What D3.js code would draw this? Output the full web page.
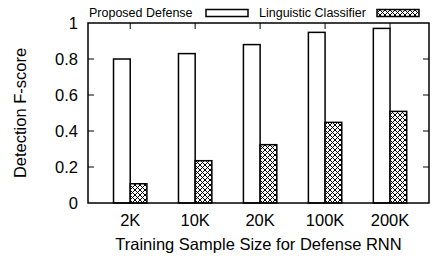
<!DOCTYPE html>
<html>
<head>
<meta charset="utf-8">
<script src="https://cdn.jsdelivr.net/npm/d3@7"></script>
<style>
  body { margin: 0; background: #fff; }
  text { font-family: "Liberation Sans", Arial, sans-serif; fill: #000; }
</style>
</head>
<body>
<div id="my_dataviz"></div>
<script>
// chart data
const sizes = ["2K", "10K", "20K", "100K", "200K"];
const proposed = [0.80, 0.83, 0.88, 0.948, 0.97];
const linguistic = [0.107, 0.235, 0.324, 0.448, 0.509];
const yTicks = [0, 0.2, 0.4, 0.6, 0.8, 1];
const seriesNames = ["Proposed Defense", "Linguistic Classifier"];

const width = 433
const height = 256
const margin = {
    "top": 23,
    "bottom": 53,
    "left": 88,
    "right": 4,
};
const barW = 0.257;
const axisFont = "16.5px";

document.addEventListener('DOMContentLoaded', function () {
    var svg = d3.select("#my_dataviz").append("svg")
        .attr("width", width)
        .attr("height", height);

    // crosshatch pattern
    var pat = svg.append("defs").append("pattern")
        .attr("id", "hatch")
        .attr("patternUnits", "userSpaceOnUse")
        .attr("width", 5)
        .attr("height", 5);
    pat.append("rect").attr("width", 5).attr("height", 5).attr("fill", "#fff");
    pat.append("path")
        .attr("d", "M0,0L5,5M5,0L0,5M-1,4L1,6M4,-1L6,1M-1,1L1,-1M4,6L6,4")
        .attr("stroke", "#000")
        .attr("stroke-width", 1);

    var xScale = d3.scaleLinear().domain([-0.65, 4.6]).range([margin.left, width - margin.right]);
    var yScale = d3.scaleLinear().domain([0, 1]).range([height - margin.bottom, margin.top]);

    var x0 = xScale.range()[0], x1 = xScale.range()[1];
    var y0 = yScale.range()[0], y1 = yScale.range()[1];

    // bars
    svg.selectAll("rect.proposed")
        .data(proposed)
        .join("rect")
            .attr("class", "proposed")
            .attr("x", (d, i) => xScale(i - barW))
            .attr("y", d => yScale(d))
            .attr("width", xScale(barW) - xScale(0))
            .attr("height", d => yScale(0) - yScale(d))
            .attr("fill", "#fff")
            .attr("stroke", "#000")
            .attr("stroke-width", 1.5);

    svg.selectAll("rect.linguistic")
        .data(linguistic)
        .join("rect")
            .attr("class", "linguistic")
            .attr("x", (d, i) => xScale(i))
            .attr("y", d => yScale(d))
            .attr("width", xScale(barW) - xScale(0))
            .attr("height", d => yScale(0) - yScale(d))
            .attr("fill", "url(#hatch)")
            .attr("stroke", "#000")
            .attr("stroke-width", 1.5);

    // y ticks (left and mirrored right)
    var yt = svg.append("g").attr("class", "y_ticks");
    yt.selectAll("line.l").data(yTicks.slice(1, -1)).join("line")
        .attr("x1", x0).attr("x2", x0 + 6)
        .attr("y1", d => yScale(d)).attr("y2", d => yScale(d))
        .attr("stroke", "#000").attr("stroke-width", 1);
    yt.selectAll("line.r").data(yTicks.slice(1, -1)).join("line")
        .attr("x1", x1).attr("x2", x1 - 6)
        .attr("y1", d => yScale(d)).attr("y2", d => yScale(d))
        .attr("stroke", "#000").attr("stroke-width", 1);
    yt.selectAll("text").data(yTicks).join("text")
        .attr("x", x0 - 10)
        .attr("y", d => yScale(d))
        .attr("dy", "0.36em")
        .attr("text-anchor", "end")
        .attr("font-size", axisFont)
        .text(d => d3.format("~g")(d));

    // x ticks (top mirrored), labels below
    var xt = svg.append("g").attr("class", "x_ticks");
    xt.selectAll("line.t").data(sizes).join("line")
        .attr("x1", (d, i) => xScale(i)).attr("x2", (d, i) => xScale(i))
        .attr("y1", y1).attr("y2", y1 + 6)
        .attr("stroke", "#000").attr("stroke-width", 1);
    xt.selectAll("text").data(sizes).join("text")
        .attr("x", (d, i) => xScale(i))
        .attr("y", y0 + 23)
        .attr("text-anchor", "middle")
        .attr("font-size", axisFont)
        .text(d => d);

    // frame
    svg.append("rect")
        .attr("x", x0).attr("y", y1)
        .attr("width", x1 - x0).attr("height", y0 - y1)
        .attr("fill", "none")
        .attr("stroke", "#000")
        .attr("stroke-width", 1.5);

    // axis titles
    svg.append("text")
        .attr("transform", "translate(26," + ((y0 + y1) / 2) + ") rotate(-90)")
        .attr("text-anchor", "middle")
        .attr("font-size", axisFont)
        .text("Detection F-score");
    svg.append("text")
        .attr("x", (x0 + x1) / 2)
        .attr("y", y0 + 47)
        .attr("text-anchor", "middle")
        .attr("font-size", axisFont)
        .text("Training Sample Size for Defense RNN");

    // legend
    var legend = svg.append("g").attr("class", "legend");
    var legendItems = [
        {name: seriesNames[0], fill: "#fff", tx: 89, bx: 206},
        {name: seriesNames[1], fill: "url(#hatch)", tx: 259, bx: 377}
    ];
    legend.selectAll("text").data(legendItems).join("text")
        .attr("x", d => d.tx)
        .attr("y", 17)
        .attr("font-size", "12.5px")
        .text(d => d.name);
    legend.selectAll("rect").data(legendItems).join("rect")
        .attr("x", d => d.bx)
        .attr("y", 9.5)
        .attr("width", 42)
        .attr("height", 7)
        .attr("fill", d => d.fill)
        .attr("stroke", "#000")
        .attr("stroke-width", 1.5);
});
</script>
</body>
</html>
